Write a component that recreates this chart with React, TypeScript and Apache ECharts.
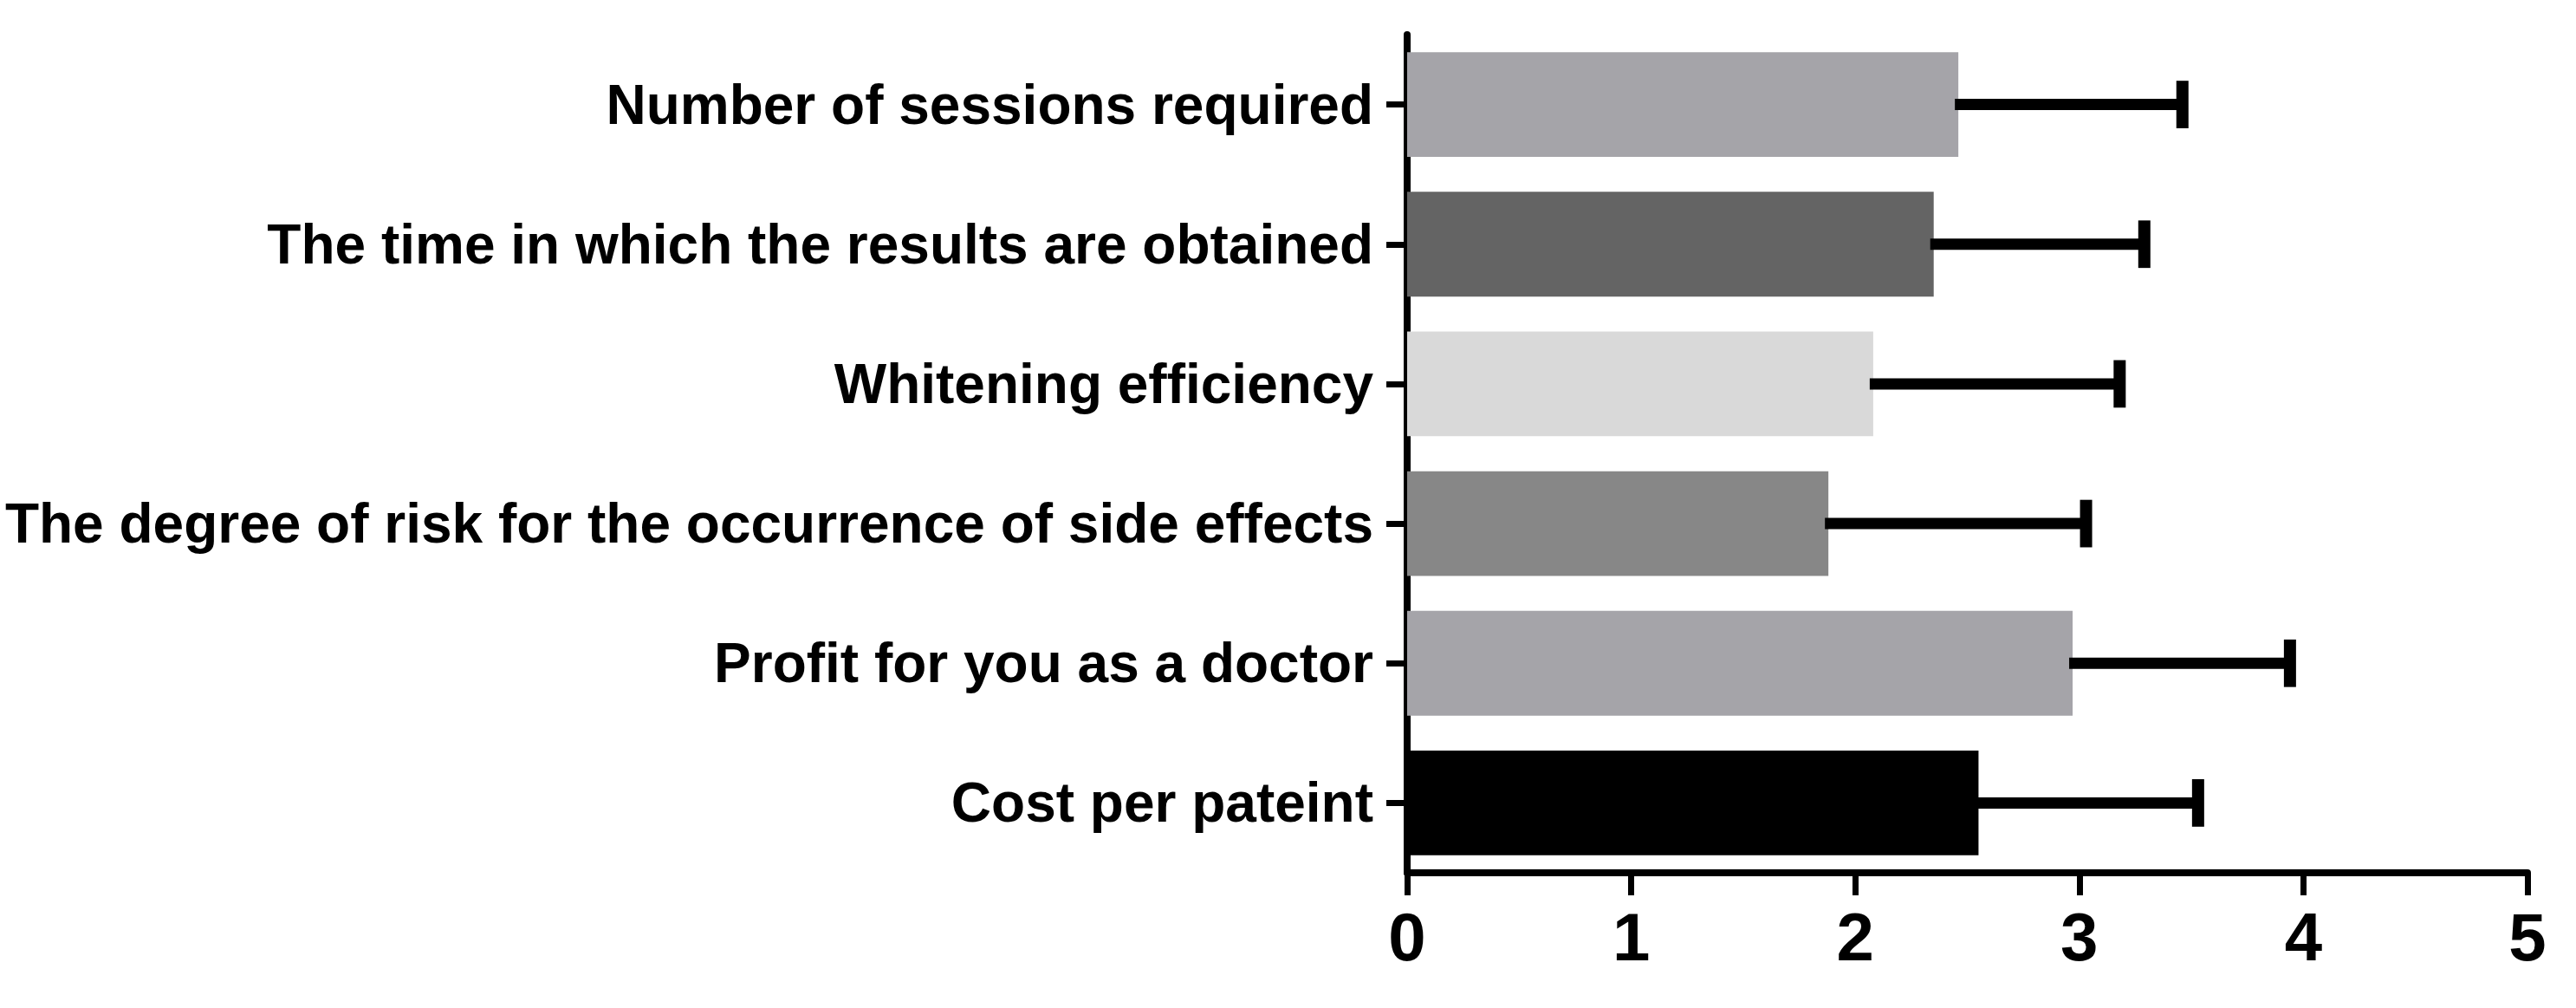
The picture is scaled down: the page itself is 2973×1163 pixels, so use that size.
import React, { useEffect, useRef } from "react";
import * as echarts from "echarts";

const categories = [
  "Number of sessions required",
  "The time in which the results are obtained",
  "Whitening efficiency",
  "The degree of risk for the occurrence of side effects",
  "Profit for you as a doctor",
  "Cost per pateint",
];
const means = [2.46, 2.35, 2.08, 1.88, 2.97, 2.55];
const sds = [1.0, 0.94, 1.1, 1.15, 0.97, 0.98];
const barColors = ["#a5a4a9", "#646464", "#d9d9d9", "#878787", "#a5a4a9", "#000000"];
const xMin = 0;
const xMax = 5;
const xInterval = 1;

const FONT = "'Liberation Sans', Arial, Helvetica, sans-serif";

export default function App() {
  const ref = useRef<HTMLDivElement>(null);
  useEffect(() => {
    document.body.style.margin = "0";
    const chart = echarts.init(ref.current!, null, { renderer: "svg" });
    chart.setOption({
      animation: false,
      backgroundColor: "#ffffff",
      grid: {
        left: 1624,
        right: 56,
        top: 40,
        bottom: 156,
        containLabel: false,
        outerBoundsMode: "none",
      },
      xAxis: {
        type: "value",
        min: xMin,
        max: xMax,
        interval: xInterval,
        splitLine: { show: false },
        axisLine: { show: true, lineStyle: { color: "#000", width: 8 } },
        axisTick: { show: true, length: 26, lineStyle: { color: "#000", width: 7 } },
        axisLabel: { fontSize: 78, fontWeight: "bold", color: "#000", fontFamily: FONT, margin: 35 },
      },
      yAxis: {
        type: "category",
        inverse: true,
        data: categories,
        axisLine: { show: true, lineStyle: { color: "#000", width: 8 } },
        axisTick: { show: true, alignWithLabel: true, length: 24, lineStyle: { color: "#000", width: 7 } },
        axisLabel: { fontSize: 64, fontWeight: "bold", color: "#000", fontFamily: FONT, margin: 39 },
      },
      series: [
        {
          type: "bar",
          barWidth: "75%",
          data: means.map((v, i) => ({ value: v, itemStyle: { color: barColors[i] } })),
        },
        {
          type: "custom",
          z: 5,
          data: means.map((m, i) => [i, m, m + sds[i]]),
          encode: { x: [1, 2], y: 0 },
          renderItem: (params: any, api: any) => {
            const idx = api.value(0);
            const start = api.coord([api.value(1), idx]);
            const end = api.coord([api.value(2), idx]);
            const h = api.size([0, 1])[1] * 0.17;
            return {
              type: "group",
              children: [
                {
                  type: "line",
                  shape: { x1: start[0] - 4, y1: start[1], x2: end[0], y2: end[1] },
                  style: { stroke: "#000", lineWidth: 13 },
                },
                {
                  type: "line",
                  shape: { x1: end[0], y1: end[1] - h, x2: end[0], y2: end[1] + h },
                  style: { stroke: "#000", lineWidth: 14 },
                },
              ],
            };
          },
        },
      ],
    });
    return () => chart.dispose();
  }, []);
  return (
    <div
      ref={ref}
      style={{ position: "absolute", left: 0, top: 0, width: 2973, height: 1163 }}
    />
  );
}
